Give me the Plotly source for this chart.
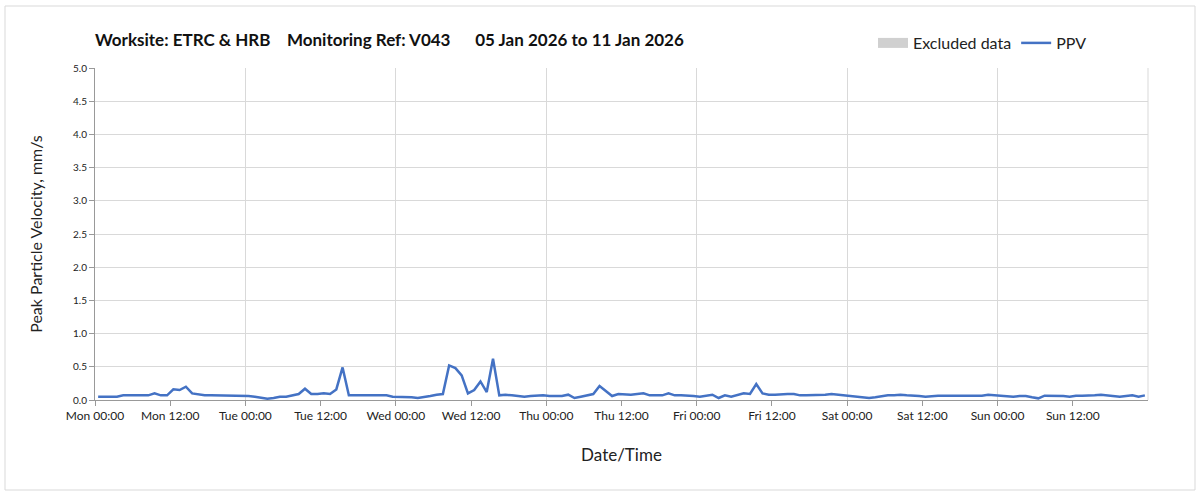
import plotly.graph_objects as go
import pandas as pd

# Hourly PPV readings (mm/s), Mon 05 Jan 2026 to Sun 11 Jan 2026
ppv_mon = [0.05, 0.05, 0.05, 0.05, 0.07, 0.07, 0.07, 0.07, 0.07, 0.10, 0.07, 0.07,
           0.16, 0.15, 0.20, 0.10, 0.08, 0.07, 0.07, 0.07, 0.07, 0.07, 0.07, 0.07]
ppv_tue = [0.06, 0.05, 0.04, 0.02, 0.03, 0.05, 0.05, 0.07, 0.09, 0.17, 0.09, 0.09,
           0.10, 0.09, 0.16, 0.49, 0.07, 0.07, 0.07, 0.07, 0.07, 0.07, 0.07, 0.05]
ppv_wed = [0.05, 0.05, 0.04, 0.03, 0.04, 0.06, 0.08, 0.09, 0.52, 0.48, 0.37, 0.10,
           0.15, 0.28, 0.12, 0.62, 0.07, 0.08, 0.07, 0.06, 0.05, 0.06, 0.07, 0.07]
ppv_thu = [0.06, 0.06, 0.06, 0.08, 0.03, 0.05, 0.07, 0.09, 0.21, 0.13, 0.06, 0.09,
           0.08, 0.08, 0.09, 0.10, 0.07, 0.07, 0.07, 0.10, 0.07, 0.07, 0.07, 0.06]
ppv_fri = [0.05, 0.06, 0.08, 0.03, 0.07, 0.05, 0.07, 0.10, 0.09, 0.24, 0.10, 0.08,
           0.08, 0.09, 0.09, 0.09, 0.07, 0.07, 0.07, 0.07, 0.08, 0.09, 0.08, 0.07]
ppv_sat = [0.06, 0.05, 0.03, 0.03, 0.04, 0.06, 0.07, 0.07, 0.08, 0.07, 0.07, 0.06,
           0.05, 0.06, 0.065, 0.065, 0.065, 0.065, 0.065, 0.065, 0.065, 0.065, 0.08, 0.07]
ppv_sun = [0.07, 0.05, 0.05, 0.06, 0.06, 0.04, 0.025, 0.065, 0.065, 0.065, 0.06, 0.05,
           0.065, 0.065, 0.065, 0.07, 0.08, 0.07, 0.065, 0.05, 0.06, 0.07, 0.05, 0.07]

ppv = ppv_mon + ppv_tue + ppv_wed + ppv_thu + ppv_fri + ppv_sat + ppv_sun
times = pd.date_range("2026-01-05 00:30", periods=len(ppv), freq="h")

# x-axis ticks every 12 hours (Mon 00:00 .. Sun 12:00)
tick_times = pd.date_range("2026-01-05 00:00", periods=14, freq="12h")

excluded_times = [None]
excluded_values = [None]

title_text = ("Worksite: ETRC &amp; HRB&nbsp;&nbsp;&nbsp;&nbsp;Monitoring Ref: V043"
              "&nbsp;&nbsp;&nbsp;&nbsp;&nbsp;&nbsp;05 Jan 2026 to 11 Jan 2026")

FONT = "Lato"
W, H = 1203, 493
L, R, T, B = 95, 55, 68, 93
PW, PH = W - L - R, H - T - B

fig = go.Figure()
fig.add_trace(go.Scatter(x=excluded_times, y=excluded_values, mode="lines",
                         name="Excluded data", showlegend=True,
                         line=dict(color="#d0d0d0", width=12)))
fig.add_trace(go.Scatter(x=times, y=ppv, mode="lines", name="PPV",
                         line=dict(color="#4472C4", width=2.5)))

fig.update_layout(
    width=W, height=H,
    margin=dict(l=L, r=R, t=T, b=B),
    paper_bgcolor="white", plot_bgcolor="white",
    showlegend=True,
    font=dict(family=FONT, color="#222222"),
    title=dict(text="<b>" + title_text + "</b>", x=L / W, xanchor="left",
               y=1 - 40 / H, yanchor="middle",
               font=dict(size=17, family=FONT, color="#111111")),
    legend=dict(orientation="h", x=(1092 - L) / PW, xanchor="right",
                y=(400 - 43) / PH, yanchor="middle", font=dict(size=16, family=FONT),
                traceorder="normal", itemwidth=30, tracegroupgap=0),
    shapes=[dict(type="rect", xref="paper", yref="paper",
                 x0=(5 - L) / PW, x1=(1195 - L) / PW,
                 y0=(400 - 490) / PH, y1=(400 - 6) / PH,
                 line=dict(color="#d9d9d9", width=1),
                 fillcolor="rgba(0,0,0,0)", layer="below"),
            dict(type="line", xref="paper", yref="paper", x0=1, x1=1, y0=0, y1=1,
                 line=dict(color="#d9d9d9", width=1))],
)

fig.update_xaxes(
    type="date",
    range=["2026-01-05 00:00", "2026-01-12 00:00"],
    tickmode="array", tickvals=list(tick_times),
    tickformat="%a %H:%M", tickfont=dict(size=12, family=FONT, color="#222222"),
    ticks="outside", ticklen=5, tickcolor="#999999",
    showgrid=False, showline=True, linecolor="#999999", linewidth=1,
    zeroline=False,
    minor=dict(tickmode="linear", dtick=24 * 3600 * 1000, tick0="2026-01-05 00:00",
               showgrid=True, gridcolor="#d9d9d9", gridwidth=1, ticks=""),
    title=dict(text="Date/Time", font=dict(size=17, family=FONT), standoff=26),
)
fig.update_yaxes(
    range=[0, 5], dtick=0.5, tickformat=".1f",
    tickfont=dict(size=10, family=FONT, color="#222222"),
    ticks="outside", ticklen=5, tickcolor="#999999",
    showgrid=True, gridcolor="#d9d9d9", gridwidth=1,
    showline=True, linecolor="#999999", linewidth=1, zeroline=False,
    title=dict(text="Peak Particle Velocity, mm/s", font=dict(size=16, family=FONT),
               standoff=26),
)

fig.write_html("out.html", config={"displayModeBar": False},
               post_script="document.body.style.margin='0px';")
